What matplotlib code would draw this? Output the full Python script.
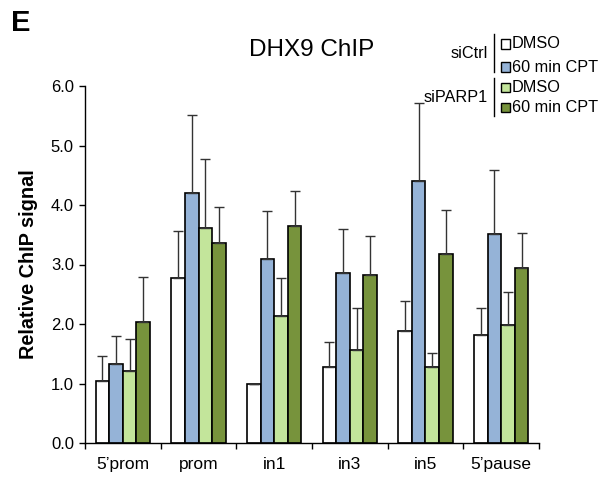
import numpy as np
import matplotlib
matplotlib.use("Agg")
import matplotlib.pyplot as plt
from matplotlib.patches import Rectangle
from matplotlib.lines import Line2D

plt.rcParams['font.family'] = ['Liberation Sans', 'DejaVu Sans']

regions = ["5\u2019prom", "prom", "in1", "in3", "in5", "5\u2019pause"]
series = ["siCtrl DMSO", "siCtrl 60 min CPT", "siPARP1 DMSO", "siPARP1 60 min CPT"]
colors = ["#ffffff", "#95b3d7", "#c3e59b", "#77933c"]

ctrl_dmso = [1.04, 2.77, 1.00, 1.28, 1.88, 1.81]
ctrl_cpt = [1.33, 4.20, 3.09, 2.85, 4.40, 3.51]
parp_dmso = [1.21, 3.61, 2.14, 1.56, 1.27, 1.99]
parp_cpt = [2.04, 3.36, 3.65, 2.83, 3.17, 2.94]

ctrl_dmso_err = [0.42, 0.79, 0.0, 0.41, 0.51, 0.46]
ctrl_cpt_err = [0.46, 1.31, 0.81, 0.74, 1.32, 1.08]
parp_dmso_err = [0.54, 1.16, 0.64, 0.71, 0.24, 0.55]
parp_cpt_err = [0.75, 0.61, 0.58, 0.65, 0.74, 0.59]

values = [ctrl_dmso, ctrl_cpt, parp_dmso, parp_cpt]
errors = [ctrl_dmso_err, ctrl_cpt_err, parp_dmso_err, parp_cpt_err]

W, H = 603, 478
fig = plt.figure(figsize=(W / 100, H / 100), dpi=100)
ax = fig.add_axes([85 / W, 1 - 443 / H, (539 - 85) / W, (443 - 86) / H])

x = np.arange(len(regions))
bw = 0.18
for i, (vals, errs, c) in enumerate(zip(values, errors, colors)):
    pos = x + (i - 1.5) * bw
    ax.bar(pos, vals, bw, color=c, edgecolor="black", linewidth=1.2, zorder=2)
    ax.errorbar(pos, vals, yerr=[np.zeros(len(vals)), errs], fmt="none",
                ecolor="#333333", elinewidth=1.0, capsize=3.5, capthick=1.0, zorder=3)

ax.set_xlim(-0.5, len(regions) - 0.5)
ax.set_ylim(0, 6)
ax.set_yticks(np.arange(0, 6.1, 1.0))
ax.set_yticklabels([f"{v:.1f}" for v in np.arange(0, 6.1, 1.0)], fontsize=12)
ax.set_xticks(x)
ax.set_xticklabels(regions, fontsize=12.5)
ax.set_xticks(np.arange(-0.5, len(regions)), minor=True)
ax.tick_params(axis="x", which="major", length=0, pad=10)
ax.tick_params(axis="x", which="minor", length=4, width=1.0, direction="out")
ax.tick_params(axis="y", length=4, width=1.0, direction="out", pad=4)
for s in ["top", "right"]:
    ax.spines[s].set_visible(False)
for s in ["left", "bottom"]:
    ax.spines[s].set_linewidth(1.0)

ax.set_ylabel("Relative ChIP signal", fontsize=14.3, fontweight="bold", labelpad=9)

fig.text(312 / W, 1 - 50 / H, "DHX9 ChIP", fontsize=17.5, ha="center", va="center")
fig.text(11 / W, 1 - 23 / H, "E", fontsize=21, fontweight="bold", ha="left", va="center")

# legend drawn by hand
def fx(px):
    return px / W

def fy(py):
    return 1 - py / H

fig.text(fx(488), fy(53), "siCtrl", fontsize=11.7, ha="right", va="center")
fig.text(fx(488), fy(97), "siPARP1", fontsize=11.7, ha="right", va="center")
fig.add_artist(Line2D([fx(494), fx(494)], [fy(34), fy(72)], color="black", lw=1.0))
fig.add_artist(Line2D([fx(494), fx(494)], [fy(78), fy(116)], color="black", lw=1.0))
labels = ["DMSO", "60 min CPT", "DMSO", "60 min CPT"]
rows = [44, 67, 88, 108]
for lab, c, yy in zip(labels, colors, rows):
    fig.add_artist(Rectangle((fx(501), fy(yy + 4.5)), 9 / W, 9 / H, facecolor=c,
                             edgecolor="black", lw=1.0, transform=fig.transFigure))
    fig.text(fx(512), fy(yy), lab, fontsize=11.7, ha="left", va="center")

fig.savefig("out.png", dpi=100)
